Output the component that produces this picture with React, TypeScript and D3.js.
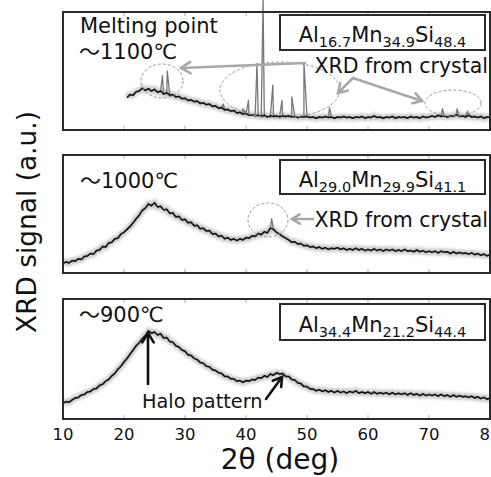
import React from 'react';
import * as d3 from 'd3';

const xTicks = [10, 20, 30, 40, 50, 60, 70, 80];
const gridStep = 0.5;

// 1100 C sample (starts at 20.5 deg)
const topStart = 20.5;
const topBase = [
  27.5, 30.0, 29.5, 32.5, 33.0, 35.5, 33.5, 35.0, 33.0, 34.5, 32.0, 33.0, 30.5, 31.5, 29.5, 30.0,
  28.0, 28.5, 26.5, 27.0, 25.0, 25.5, 24.0, 24.5, 22.5, 23.0, 21.5, 22.0, 20.0, 20.5, 18.5, 19.0,
  17.0, 17.5, 16.0, 16.5, 14.5, 15.0, 13.5, 14.0, 12.5, 13.0, 12.0, 12.5, 11.5, 12.5, 11.0, 12.0,
  11.5, 12.0, 11.0, 12.0, 11.5, 12.0, 11.0, 11.5, 10.5, 11.5, 11.0, 11.5, 10.5, 11.0, 10.0, 11.0,
  10.5, 11.5, 10.5, 11.0, 10.0, 11.0, 10.5, 11.5, 10.5, 11.0, 10.0, 11.0, 10.5, 11.5, 10.0, 11.0,
  10.5, 12.0, 10.5, 11.0, 10.0, 11.0, 10.5, 11.5, 10.0, 11.0, 10.5, 11.0, 10.0, 11.5, 10.5, 11.0,
  10.0, 11.5, 10.5, 11.0, 12.0, 11.0, 12.5, 11.5, 12.0, 11.0, 12.0, 11.5, 13.0, 11.5, 12.0, 11.0,
  12.5, 11.0, 11.5, 10.5, 11.5, 10.0, 11.0, 10.5,
];
const topPeaks: [number, number][] = [
  [26.3, 46], [27.1, 50], [36.3, 22], [39.5, 18], [40.4, 25], [41.8, 56], [42.8, 110],
  [44.4, 38], [45.9, 25], [47.5, 28], [49.5, 57], [53.7, 19], [72.2, 18], [74.6, 18], [76.3, 16],
];

// 1000 C sample
const midStart = 10;
const midBase = [
  8.0, 9.5, 8.5, 10.5, 10.0, 12.0, 11.5, 14.0, 14.5, 16.5, 16.0, 19.0, 19.5, 22.5, 22.0, 25.5,
  26.0, 29.0, 29.5, 33.0, 34.5, 37.0, 39.5, 42.5, 46.0, 49.0, 53.0, 55.0, 58.5, 57.0, 59.5, 56.0,
  56.5, 53.5, 54.0, 50.5, 51.0, 47.5, 48.0, 45.0, 45.5, 42.5, 43.0, 40.0, 40.5, 37.5, 38.0, 35.5,
  36.0, 33.0, 33.5, 31.0, 31.5, 29.0, 30.0, 28.0, 29.0, 27.5, 29.0, 28.0, 30.0, 29.5, 31.5, 31.0,
  33.5, 32.5, 35.0, 34.0, 38.0, 37.0, 34.5, 33.0, 31.0, 29.5, 28.0, 26.0, 26.5, 24.5, 25.0, 23.0,
  23.5, 22.0, 22.5, 21.0, 22.0, 20.5, 21.5, 20.0, 21.0, 20.5, 21.5, 20.0, 21.0, 19.5, 20.5, 19.5,
  21.0, 19.5, 20.5, 19.0, 20.0, 19.0, 20.5, 19.0, 20.0, 18.5, 20.0, 19.0, 20.0, 18.5, 19.5, 18.5,
  20.0, 18.5, 19.0, 18.0, 19.5, 18.0, 19.0, 17.5, 18.5, 17.5, 18.5, 17.0, 18.5, 17.5, 18.0, 16.5,
  18.0, 16.5, 17.5, 16.5, 17.0, 16.0, 17.0, 15.5, 16.5, 15.0, 16.0, 14.5, 15.5,
];
const midPeaks: [number, number][] = [[44.2, 46]];

// 900 C sample
const botStart = 10;
const botBase = [
  13.0, 14.5, 14.0, 16.0, 17.5, 18.0, 20.0, 20.5, 22.5, 23.0, 25.0, 25.5, 28.0, 29.0, 31.5, 33.0,
  36.0, 38.0, 41.5, 44.0, 47.5, 50.5, 54.0, 57.5, 61.0, 63.5, 67.0, 69.5, 73.5, 71.5, 72.5, 70.0,
  71.0, 67.5, 68.0, 64.5, 64.0, 61.0, 60.0, 57.5, 56.5, 53.5, 53.0, 50.5, 49.5, 47.0, 46.5, 44.0,
  43.5, 41.0, 40.5, 38.5, 38.0, 35.5, 35.5, 33.5, 33.5, 31.5, 32.0, 30.5, 32.0, 31.5, 33.0, 32.5,
  34.5, 34.0, 36.0, 35.0, 37.5, 36.5, 38.5, 37.5, 38.0, 35.5, 35.5, 33.0, 32.5, 30.0, 29.5, 27.0,
  27.0, 25.0, 25.0, 23.5, 24.5, 23.0, 24.0, 22.5, 23.5, 22.0, 23.5, 22.0, 23.0, 21.5, 23.0, 22.0,
  23.5, 21.5, 22.5, 21.5, 22.5, 21.0, 22.5, 21.0, 22.0, 21.0, 22.0, 20.5, 22.0, 20.5, 21.5, 20.5,
  21.5, 20.0, 21.5, 20.0, 21.0, 19.5, 21.0, 19.5, 20.5, 19.5, 20.5, 19.0, 20.5, 19.0, 20.0, 18.5,
  20.0, 18.5, 19.5, 18.5, 19.0, 18.0, 19.0, 17.5, 18.5, 17.0, 18.0, 16.5, 17.5,
];
const botPeaks: [number, number][] = [];

const formulas = [
  [['Al', '16.7'], ['Mn', '34.9'], ['Si', '48.4']],
  [['Al', '29.0'], ['Mn', '29.9'], ['Si', '41.1']],
  [['Al', '34.4'], ['Mn', '21.2'], ['Si', '44.4']],
];

function baseSeries(start: number, base: number[]) {
  return base.map((v, i) => [start + i * gridStep, v] as [number, number]);
}
function fullSeries(start: number, base: number[], peaks: [number, number][]) {
  return baseSeries(start, base).concat(peaks).sort((a, b) => a[0] - b[0]);
}

const FONT = "'DejaVu Sans', 'Noto Sans CJK JP', sans-serif";
const X0 = 63;
const X1 = 490;

const panels = [
  { top: 12, bottom: 130, base: baseSeries(topStart, topBase), full: fullSeries(topStart, topBase, topPeaks), box: [280, 15, 205, 35], boxBase: 42 },
  { top: 155, bottom: 273, base: baseSeries(midStart, midBase), full: fullSeries(midStart, midBase, midPeaks), box: [280, 160, 205, 34], boxBase: 187 },
  { top: 299, bottom: 419, base: baseSeries(botStart, botBase), full: fullSeries(botStart, botBase, botPeaks), box: [280, 304, 205, 36], boxBase: 332 },
];

const x = d3.scaleLinear().domain([10, 80]).range([X0, X1]);

function Arrow({ x1, y1, x2, y2, color, w, head }: any) {
  const ang = Math.atan2(y2 - y1, x2 - x1);
  const a1 = ang + Math.PI - 0.55;
  const a2 = ang + Math.PI + 0.55;
  return (
    <g stroke={color} strokeWidth={w} fill="none" strokeLinecap="round">
      <line x1={x1} y1={y1} x2={x2} y2={y2} />
      <polyline
        points={`${x2 + head * Math.cos(a1)},${y2 + head * Math.sin(a1)} ${x2},${y2} ${x2 + head * Math.cos(a2)},${y2 + head * Math.sin(a2)}`}
      />
    </g>
  );
}

function Formula({ parts, cx, y }: any) {
  return (
    <text x={cx} y={y} textAnchor="middle" fontFamily={FONT} fontSize={21} fill="#111">
      {parts.map((p: string[], i: number) => (
        <React.Fragment key={i}>
          <tspan dy={i === 0 ? 0 : -5}>{p[0]}</tspan>
          <tspan fontSize={14.5} dy={5}>{p[1]}</tspan>
        </React.Fragment>
      ))}
    </text>
  );
}

export default function App() {
  return (
    <svg width={491} height={477} style={{ position: 'absolute', left: 0, top: 0, background: '#fff' }}>
      <defs>
        <filter id="blur" x="-5%" y="-50%" width="110%" height="200%">
          <feGaussianBlur stdDeviation="1.4" />
        </filter>
      </defs>
      <rect width={491} height={477} fill="#fff" />
      {panels.map((p, k) => {
        const y = d3.scaleLinear().domain([0, 100]).range([p.bottom, p.top]);
        const line = d3.line<[number, number]>().x((d) => x(d[0])).y((d) => y(d[1]));
        const basePath = line(p.base) || '';
        const fullPath = line(p.full) || '';
        return (
          <g key={k}>
            {xTicks.map((t) => (
              <g key={t} stroke="#aaa" strokeWidth={1}>
                <line x1={x(t)} x2={x(t)} y1={p.bottom} y2={p.bottom - 4} />
                <line x1={x(t)} x2={x(t)} y1={p.top} y2={p.top + 4} />
              </g>
            ))}
            <path d={basePath} fill="none" stroke="#8a8a8a" strokeWidth={6} opacity={0.5} filter="url(#blur)" />
            <path d={fullPath} fill="none" stroke="#777" strokeWidth={1.3} strokeLinejoin="round" />
            <path d={basePath} fill="none" stroke="#111" strokeWidth={1.5} strokeLinejoin="round" />
            <rect x={X0} y={p.top} width={X1 - X0} height={p.bottom - p.top} fill="none" stroke="#2a2a2a" strokeWidth={2} />
            <rect x={p.box[0]} y={p.box[1]} width={p.box[2]} height={p.box[3]} fill="#fff" stroke="#2a2a2a" strokeWidth={2} />
            <Formula parts={formulas[k]} cx={p.box[0] + p.box[2] / 2} y={p.boxBase} />
          </g>
        );
      })}

      <g fill="none" stroke="#999" strokeWidth={1} strokeDasharray="3,2">
        <ellipse cx={162} cy={81} rx={21} ry={17} />
        <ellipse cx={280} cy={90} rx={60} ry={28} />
        <ellipse cx={453} cy={103} rx={28} ry={13} />
        <ellipse cx={268} cy={220} rx={20} ry={17} />
      </g>
      <Arrow x1={305} y1={63} x2={181} y2={68} color="#a8a8a8" w={2.6} head={11} />
      <Arrow x1={353} y1={78} x2={338} y2={93} color="#a8a8a8" w={2.6} head={10} />
      <Arrow x1={353} y1={78} x2={422} y2={101} color="#a8a8a8" w={2.6} head={10} />
      <Arrow x1={313} y1={219} x2={292} y2={219} color="#a8a8a8" w={2.6} head={9} />
      <Arrow x1={148} y1={384} x2={148} y2={333} color="#111" w={2.6} head={11} />
      <Arrow x1={266} y1={399} x2={282} y2={377} color="#111" w={2.6} head={10} />

      <g fontFamily={FONT} fill="#111">
        <text x={80} y={33} fontSize={21}>Melting point</text>
        <text x={79} y={59} fontSize={21}>～1100℃</text>
        <text x={488} y={73} fontSize={20.5} textAnchor="end">XRD from crystal</text>
        <text x={80} y={188} fontSize={21}>～1000℃</text>
        <text x={488} y={227} fontSize={20.5} textAnchor="end">XRD from crystal</text>
        <text x={79} y={322} fontSize={21}>～900℃</text>
        <text x={142} y={408} fontSize={19.3}>Halo pattern</text>
        {xTicks.map((t) => (
          <text key={t} x={x(t)} y={440} fontSize={16.5} textAnchor="middle">{t}</text>
        ))}
        <text x={280} y={469} fontSize={28} textAnchor="middle">2θ (deg)</text>
        <text transform="translate(36,222) rotate(-90)" fontSize={26.4} textAnchor="middle">XRD signal (a.u.)</text>
      </g>
    </svg>
  );
}
